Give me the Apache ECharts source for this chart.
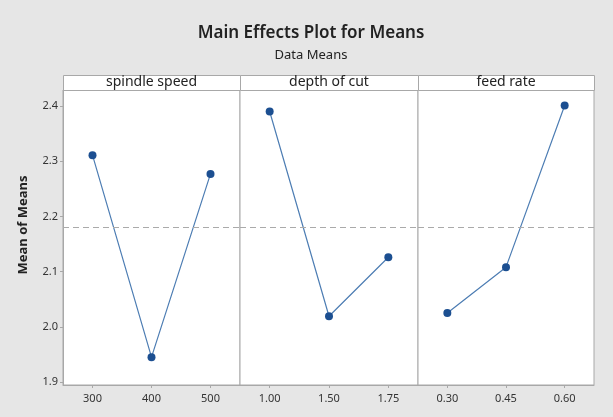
<!DOCTYPE html>
<html><head><meta charset="utf-8">
<script src="https://cdn.jsdelivr.net/npm/echarts@6/dist/echarts.min.js"></script>
<style>html,body{margin:0;padding:0;background:#e6e6e6}#c{width:613px;height:417px}</style>
</head><body><div id="c"></div>
<script>
const panelNames = ['spindle speed', 'depth of cut', 'feed rate'];
const spindleSpeed = ['300', '400', '500'];
const depthOfCut = ['1.00', '1.50', '1.75'];
const feedRate = ['0.30', '0.45', '0.60'];
const spindleMeans = [2.311, 1.945, 2.277];
const depthMeans = [2.390, 2.019, 2.126];
const feedMeans = [2.025, 2.108, 2.401];
const grandMean = 2.179;
const yTicks = [1.9, 2.0, 2.1, 2.2, 2.3, 2.4];
const yMin = 1.8945, yMax = 2.429;

const FONT = 'Noto Sans';
const BORDER = '#a8a8a8';
const cats = [spindleSpeed, depthOfCut, feedRate];
const vals = [spindleMeans, depthMeans, feedMeans];
const panels = [
  {left: 63, width: 177},
  {left: 240, width: 178},
  {left: 418, width: 176}
];
const gridTop = 90, gridH = 295, headerH = 15;

const chart = echarts.init(document.getElementById('c'));
const option = {
  backgroundColor: '#e6e6e6',
  animation: false,
  grid: panels.map(p => ({left: p.left, width: p.width, top: gridTop, height: gridH,
    show: true, backgroundColor: '#ffffff', borderColor: BORDER, borderWidth: 1})),
  xAxis: cats.map((c, i) => ({
    type: 'category', gridIndex: i, data: c, boundaryGap: true,
    axisLine: {show: true, lineStyle: {color: BORDER}},
    axisTick: {show: true, alignWithLabel: true, length: 3, lineStyle: {color: BORDER}},
    axisLabel: {color: '#333', fontSize: 11, fontFamily: FONT, margin: 8},
    splitLine: {show: false}
  })),
  yAxis: cats.map((c, i) => ({
    type: 'value', gridIndex: i, min: yMin, max: yMax,
    show: i === 0,
    axisLine: {show: true, lineStyle: {color: BORDER}},
    axisTick: {show: true, length: 3, customValues: yTicks, lineStyle: {color: BORDER}},
    axisLabel: {color: '#333', fontSize: 11, fontFamily: FONT, margin: 5,
      customValues: yTicks, formatter: v => Number(v).toFixed(1)},
    splitLine: {show: false}
  })),
  series: vals.map((v, i) => ({
    type: 'line', xAxisIndex: i, yAxisIndex: i, data: v,
    symbol: 'circle', symbolSize: 8,
    lineStyle: {color: '#4d7db3', width: 1.2},
    itemStyle: {color: '#1c4f91'},
    markLine: {
      silent: true, symbol: 'none', label: {show: false},
      lineStyle: {color: '#aaaaaa', type: [6, 4], width: 1.2},
      data: [{yAxis: grandMean}]
    },
    z: 3
  })),
  graphic: [
    {type: 'text', x: 311, y: 33, style: {text: 'Main Effects Plot for Means',
      textAlign: 'center', textVerticalAlign: 'middle',
      font: '600 17px "' + FONT + '"', fill: '#222'}},
    {type: 'text', x: 311, y: 55, style: {text: 'Data Means', textAlign: 'center',
      textVerticalAlign: 'middle', font: '13px "' + FONT + '"', fill: '#222'}},
    {type: 'text', x: 23, y: 225, rotation: Math.PI / 2, style: {text: 'Mean of Means',
      textAlign: 'center', textVerticalAlign: 'middle', font: 'bold 13px "' + FONT + '"', fill: '#222'}}
  ].concat(panels.map(p => ({
    type: 'rect', shape: {x: p.left + 0.5, y: gridTop - headerH + 0.5, width: p.width, height: headerH},
    style: {fill: '#ffffff', stroke: BORDER, lineWidth: 1}
  }))).concat(panels.map((p, i) => ({
    type: 'text', x: p.left + p.width / 2, y: gridTop - headerH / 2, style: {text: panelNames[i],
      textAlign: 'center', textVerticalAlign: 'middle', font: '14px "' + FONT + '"', fill: '#222'}
  })))
};
chart.setOption(option);
</script></body></html>
